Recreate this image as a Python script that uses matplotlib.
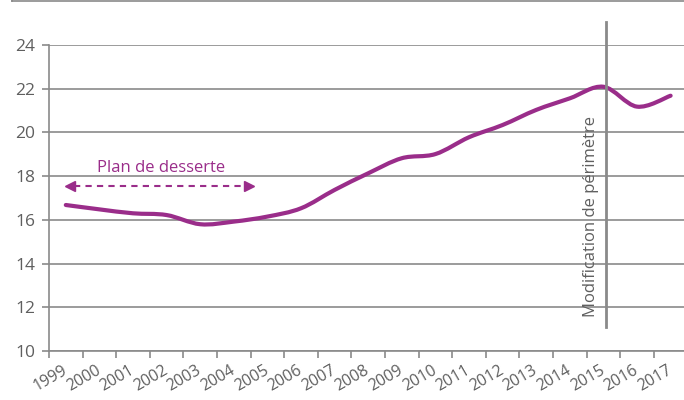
import matplotlib
matplotlib.use('Agg')
import matplotlib.pyplot as plt
from matplotlib.path import Path
from matplotlib.patches import PathPatch
from matplotlib.lines import Line2D

plt.rcParams['font.family'] = ['Open Sans', 'DejaVu Sans']

# data
years = ['1999', '2000', '2001', '2002', '2003', '2004', '2005', '2006', '2007',
         '2008', '2009', '2010', '2011', '2012', '2013', '2014', '2015', '2016', '2017']
values = [16.68, 16.48, 16.30, 16.22, 15.80, 15.92, 16.15, 16.53, 17.37,
          18.13, 18.82, 19.01, 19.78, 20.34, 21.03, 21.56, 22.09, 21.18, 21.68]
yticks = [10, 12, 14, 16, 18, 20, 22, 24]
plan_label = 'Plan de desserte'
break_label = 'Modification de périmètre'
break_year = '2015'

purple = '#9a2d8a'
grey = '#8a8a8a'
txtgrey = '#5f5f5f'

fig = plt.figure(figsize=(6.84, 4.0), dpi=100)
ax = fig.add_axes([49 / 684, 49 / 400, 638.4 / 684, 306 / 400])

n = len(years)
xs = list(range(n))
ax.set_xlim(-0.5, n - 0.5)
ax.set_ylim(yticks[0], yticks[-1])

# smooth line through the points (catmull-rom as cubic bezier segments)
pts = list(zip(xs, values))
verts = [pts[0]]
codes = [Path.MOVETO]
for i in range(n - 1):
    p0 = pts[i - 1] if i > 0 else pts[i]
    p1 = pts[i]
    p2 = pts[i + 1]
    p3 = pts[i + 2] if i + 2 < n else pts[i + 1]
    c1 = (p1[0] + (p2[0] - p0[0]) / 6, p1[1] + (p2[1] - p0[1]) / 6)
    c2 = (p2[0] - (p3[0] - p1[0]) / 6, p2[1] - (p3[1] - p1[1]) / 6)
    verts += [c1, c2, p2]
    codes += [Path.CURVE4] * 3
ax.add_patch(PathPatch(Path(verts, codes), facecolor='none', edgecolor=purple,
                       lw=3.0, capstyle='round', joinstyle='round', zorder=4))

# grid and axes
ax.set_yticks(yticks)
ax.yaxis.grid(True, color=grey, lw=1.2)
ax.set_axisbelow(True)
for s in ['top', 'right']:
    ax.spines[s].set_visible(False)
for s in ['left', 'bottom']:
    ax.spines[s].set_color(grey)
    ax.spines[s].set_linewidth(1.2)
ax.tick_params(axis='y', colors=grey, length=5, width=1.2, pad=5, labelsize=12.5,
               labelcolor=txtgrey)

ax.set_xticks(xs)
ax.set_xticklabels(years, rotation=30, ha='right', va='center', rotation_mode='anchor')
ax.set_xticks([x - 0.5 for x in xs], minor=True)
ax.tick_params(axis='x', which='major', length=0, pad=13, labelsize=11.5, labelcolor=txtgrey)
ax.tick_params(axis='x', which='minor', length=5, width=1.2, colors=grey)

# plan de desserte arrow
ay = 17.56
ax.plot([0.25, 5.3], [ay, ay], color=purple, lw=1.5, ls=(0, (3, 2.5)), zorder=3)
ax.plot([0.12], [ay], marker='<', color=purple, ms=7, zorder=3)
ax.plot([5.45], [ay], marker='>', color=purple, ms=7, zorder=3)
ax.text(2.83, 18.19, plan_label, color=purple, fontsize=12, ha='center', va='baseline')

# perimeter change
bx = years.index(break_year) + 0.09
ax.plot([bx, bx], [11.1, 25.07], color=grey, lw=2, clip_on=False, zorder=5)
ax.text(bx - 0.45, 11.56, break_label, color=txtgrey, fontsize=12, rotation=90,
        ha='center', va='bottom')

# top frame corner
fig.add_artist(Line2D([12 / 684, 1], [0.9975, 0.9975], color=grey, lw=1.2))
fig.add_artist(Line2D([12 / 684, 12 / 684], [0.9975, 1], color=grey, lw=1.2))

fig.savefig('out.png', dpi=100)
